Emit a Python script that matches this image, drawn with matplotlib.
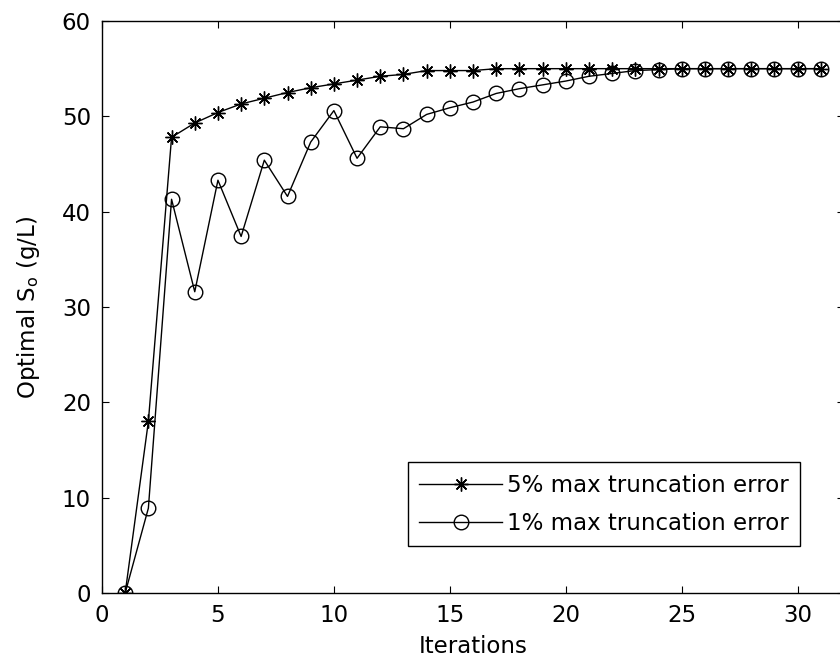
import matplotlib
matplotlib.use("Agg")
import matplotlib.pyplot as plt

plt.rcParams['font.family'] = ['DejaVu Sans']

iterations = list(range(1, 32))

# 5% max truncation error
so_5pct = [0.0, 18.0, 47.8, 49.3, 50.4, 51.3, 51.9, 52.5, 53.0, 53.4,
           53.8, 54.2, 54.4, 54.8, 54.8, 54.8, 55.0, 55.0, 55.0, 55.0,
           55.0, 55.0, 55.0, 55.0, 55.0, 55.0, 55.0, 55.0, 55.0, 55.0, 55.0]

# 1% max truncation error
so_1pct = [0.0, 8.9, 41.3, 31.6, 43.3, 37.4, 45.4, 41.6, 47.3, 50.6,
           45.6, 48.9, 48.7, 50.2, 50.9, 51.5, 52.4, 52.9, 53.3, 53.7,
           54.2, 54.5, 54.8, 54.9, 55.0, 55.0, 55.0, 55.0, 55.0, 55.0, 55.0]

labels = ["5% max truncation error", "1% max truncation error"]
fs = 16.5

fig = plt.figure(figsize=(8.4, 6.62), dpi=100)
# axes runs past the right edge of the picture, like the cropped original
ax = fig.add_axes([102/840, 69/662, 742/840, 572/662])

ax.plot(iterations, so_5pct, color='black', lw=1, marker=(8, 2, 0),
        markersize=10, markeredgewidth=1.0, label=labels[0])
ax.plot(iterations, so_1pct, color='black', lw=1, marker='o',
        markersize=10.5, markerfacecolor='none', markeredgewidth=1,
        label=labels[1])

ax.set_xlim(0, 32)
ax.set_ylim(0, 60)
ax.set_xticks([0, 5, 10, 15, 20, 25, 30])
ax.set_yticks([0, 10, 20, 30, 40, 50, 60])
ax.tick_params(direction='in', top=True, right=True, length=5,
               labelsize=fs, pad=8)
for s in ax.spines.values():
    s.set_linewidth(1)

ax.set_xlabel("Iterations", fontsize=fs, labelpad=6)
ax.set_ylabel("Optimal S$_\\mathregular{o}$ (g/L)", fontsize=fs, labelpad=14)

leg = ax.legend(loc='lower left', bbox_to_anchor=(0.4124, 0.0822),
                borderaxespad=0, fontsize=fs, frameon=True, fancybox=False,
                edgecolor='black', framealpha=1, handlelength=3.6,
                borderpad=0.5, labelspacing=0.65, handletextpad=0.2)
leg.get_frame().set_linewidth(1)

fig.savefig("out.png", dpi=100)
